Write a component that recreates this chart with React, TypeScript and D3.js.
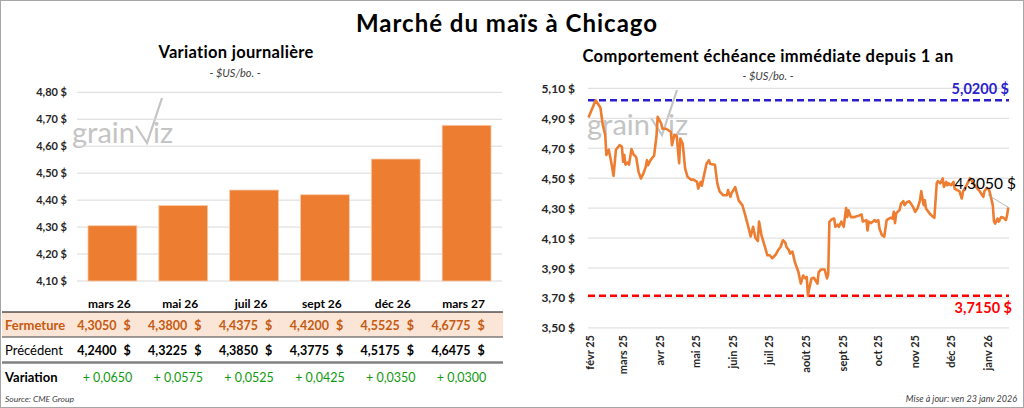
import React from "react";
import * as d3 from "d3";

// ---------- DATA ----------
const contracts = ["mars 26", "mai 26", "juil 26", "sept 26", "déc 26", "mars 27"];
const closeValues = [4.305, 4.38, 4.4375, 4.42, 4.5525, 4.6775];
const previousValues = [4.24, 4.3225, 4.385, 4.3775, 4.5175, 4.6475];
const leftTicks = [4.1, 4.2, 4.3, 4.4, 4.5, 4.6, 4.7, 4.8];
const rightTicks = [3.5, 3.7, 3.9, 4.1, 4.3, 4.5, 4.7, 4.9, 5.1];
const monthLabels = ["févr 25", "mars 25", "avr 25", "mai 25", "juin 25", "juil 25", "août 25", "sept 25", "oct 25", "nov 25", "déc 25", "janv 26"];

const priceDates = [
  "2025-01-31", "2025-02-06", "2025-02-10", "2025-02-12", "2025-02-14", "2025-02-15", "2025-02-17", "2025-02-19", "2025-02-21", "2025-02-23",
  "2025-02-26", "2025-02-28", "2025-03-01", "2025-03-02", "2025-03-03", "2025-03-05", "2025-03-06", "2025-03-08", "2025-03-10", "2025-03-11",
  "2025-03-12", "2025-03-14", "2025-03-16", "2025-03-18", "2025-03-20", "2025-03-21", "2025-03-22", "2025-03-24", "2025-03-27", "2025-03-29",
  "2025-03-30", "2025-04-02", "2025-04-03", "2025-04-06", "2025-04-08", "2025-04-10", "2025-04-11", "2025-04-13", "2025-04-15", "2025-04-17",
  "2025-04-18", "2025-04-20", "2025-04-22", "2025-04-24", "2025-04-27", "2025-04-29", "2025-05-02", "2025-05-03", "2025-05-05", "2025-05-06",
  "2025-05-10", "2025-05-12", "2025-05-13", "2025-05-17", "2025-05-19", "2025-05-21", "2025-05-24", "2025-05-27", "2025-05-28", "2025-05-30",
  "2025-05-31", "2025-06-03", "2025-06-06", "2025-06-09", "2025-06-11", "2025-06-14", "2025-06-16", "2025-06-18", "2025-06-20", "2025-06-22",
  "2025-06-23", "2025-06-25", "2025-06-28", "2025-06-30", "2025-07-02", "2025-07-04", "2025-07-07", "2025-07-09", "2025-07-11", "2025-07-13",
  "2025-07-15", "2025-07-16", "2025-07-18", "2025-07-19", "2025-07-21", "2025-07-23", "2025-07-26", "2025-07-28", "2025-07-30", "2025-08-01",
  "2025-08-02", "2025-08-03", "2025-08-04", "2025-08-06", "2025-08-08", "2025-08-11", "2025-08-12", "2025-08-14", "2025-08-17", "2025-08-19",
  "2025-08-20", "2025-08-21", "2025-08-23", "2025-08-25", "2025-08-26", "2025-08-28", "2025-08-29", "2025-08-31", "2025-09-02", "2025-09-04",
  "2025-09-05", "2025-09-06", "2025-09-08", "2025-09-11", "2025-09-14", "2025-09-17", "2025-09-18", "2025-09-21", "2025-09-22", "2025-09-23",
  "2025-09-25", "2025-09-28", "2025-09-29", "2025-10-01", "2025-10-02", "2025-10-04", "2025-10-06", "2025-10-08", "2025-10-11", "2025-10-13",
  "2025-10-14", "2025-10-15", "2025-10-16", "2025-10-19", "2025-10-20", "2025-10-22", "2025-10-23", "2025-10-25", "2025-10-27", "2025-10-30",
  "2025-11-01", "2025-11-03", "2025-11-05", "2025-11-06", "2025-11-08", "2025-11-09", "2025-11-10", "2025-11-13", "2025-11-15", "2025-11-17",
  "2025-11-19", "2025-11-20", "2025-11-22", "2025-11-24", "2025-11-25", "2025-11-27", "2025-11-28", "2025-11-29", "2025-12-01", "2025-12-03",
  "2025-12-04", "2025-12-06", "2025-12-08", "2025-12-10", "2025-12-11", "2025-12-14", "2025-12-17", "2025-12-19", "2025-12-21", "2025-12-23",
  "2025-12-25", "2025-12-26", "2025-12-28", "2025-12-29", "2025-12-31", "2026-01-02", "2026-01-04", "2026-01-05", "2026-01-06", "2026-01-07",
  "2026-01-09", "2026-01-10", "2026-01-12", "2026-01-14", "2026-01-16", "2026-01-17", "2026-01-18",
];
const priceValues = [
  4.905, 5.02, 4.97, 4.855, 4.79, 4.655, 4.69, 4.61, 4.515, 4.69,
  4.72, 4.71, 4.61, 4.655, 4.59, 4.605, 4.59, 4.694, 4.654, 4.65,
  4.64, 4.54, 4.498, 4.53, 4.575, 4.62, 4.587, 4.62, 4.65, 4.78,
  4.91, 4.865, 4.83, 4.83, 4.82, 4.81, 4.72, 4.79, 4.78, 4.6,
  4.765, 4.73, 4.565, 4.51, 4.49, 4.49, 4.475, 4.43, 4.475, 4.45,
  4.598, 4.62, 4.595, 4.59, 4.465, 4.41, 4.386, 4.386, 4.42, 4.375,
  4.4, 4.44, 4.35, 4.32, 4.265, 4.175, 4.11, 4.175, 4.1, 4.08,
  4.21, 4.12, 4.04, 3.985, 3.985, 3.965, 3.99, 4.02, 4.04, 4.085,
  4.07, 4.04, 4.02, 3.996, 4.01, 3.94, 3.873, 3.796, 3.85, 3.83,
  3.84, 3.715, 3.76, 3.83, 3.835, 3.796, 3.873, 3.89, 3.89, 3.83,
  3.86, 4.21, 4.225, 4.23, 4.175, 4.19, 4.175, 4.21, 4.175, 4.3,
  4.24, 4.285, 4.24, 4.24, 4.248, 4.257, 4.21, 4.22, 4.15, 4.21,
  4.2, 4.22, 4.21, 4.22, 4.163, 4.12, 4.11, 4.22, 4.235, 4.23,
  4.275, 4.2, 4.264, 4.29, 4.33, 4.346, 4.32, 4.34, 4.346, 4.31,
  4.275, 4.3, 4.353, 4.413, 4.32, 4.353, 4.297, 4.264, 4.248, 4.235,
  4.465, 4.48, 4.465, 4.498, 4.442, 4.475, 4.453, 4.465, 4.453, 4.475,
  4.43, 4.42, 4.413, 4.364, 4.41, 4.453, 4.5, 4.475, 4.453, 4.43,
  4.413, 4.4, 4.375, 4.413, 4.435, 4.42, 4.353, 4.32, 4.21, 4.197,
  4.23, 4.21, 4.24, 4.235, 4.22, 4.253, 4.305,
];

// ---------- STYLE ----------
const FONT = "Lato, 'Open Sans', sans-serif";
const ORANGE = "#ED7D31";
const GRID = "#D9D9D9";

const fmt = (v: number, d: number) => v.toFixed(d).replace(".", ",");

function Watermark({ x, y }: { x: number; y: number }) {
  return (
    <g transform={`translate(${x},${y})`} fill="#C4C4C4" stroke="none">
      <text x={0} y={0} fontFamily={FONT} fontSize={29} fontWeight={400}>grain</text>
      <path d="M64,-17 L75,0 L90,-45" fill="none" stroke="#C4C4C4" strokeWidth={2.2} />
      <text x={81} y={0} fontFamily={FONT} fontSize={29} fontWeight={400}>iz</text>
    </g>
  );
}

export default function App() {
  const W = 1024, H = 408;

  // Left chart scales
  const xL = d3.scaleBand<string>().domain(contracts).range([77, 502]).paddingInner(0.31).paddingOuter(0.155);
  const yL = d3.scaleLinear().domain([4.1, 4.8]).range([281, 92.3]);

  // Right chart scales
  const dates = priceDates.map((s) => d3.timeParse("%Y-%m-%d")(s) as Date);
  const xR = d3.scaleTime().domain([new Date(2025, 0, 31), new Date(2026, 0, 18)]).range([588.5, 1008.3]);
  const yR = d3.scaleLinear().domain([3.5, 5.1]).range([327.9, 88.3]);
  const monthTicks = d3.timeMonth.range(new Date(2025, 1, 1), new Date(2026, 0, 18));
  const lineGen = d3.line<number>().x((_, i) => xR(dates[i])).y((v) => yR(v));
  const maxV = d3.max(priceValues) as number;
  const minV = d3.min(priceValues) as number;
  const lastV = priceValues[priceValues.length - 1];
  const lastX = xR(dates[dates.length - 1]);

  const colC = (c: string) => (xL(c) as number) + xL.bandwidth() / 2;

  return (
    <svg width={W} height={H} style={{ position: "absolute", left: 0, top: 0, background: "#fff" }} fontFamily={FONT}>
      <rect x={0.5} y={0.5} width={W - 1} height={H - 1} fill="#fff" stroke="#A6A6A6" strokeWidth={1} />

      {/* Main title */}
      <text x={507} y={32} textAnchor="middle" fontSize={24} fontWeight={700} letterSpacing={1.0} fill="#000">Marché du maïs à Chicago</text>

      {/* ---------------- LEFT CHART ---------------- */}
      <text x={236} y={58} textAnchor="middle" fontSize={16.5} fontWeight={700} letterSpacing={0.3} fill="#000">Variation  journalière</text>
      <text x={235} y={77} textAnchor="middle" fontSize={11} fontStyle="italic" fill="#404040">- $US/bo. -</text>

      <Watermark x={72} y={143} />

      {leftTicks.map((t) => (
        <g key={t}>
          <line x1={77} x2={502} y1={yL(t)} y2={yL(t)} stroke={GRID} strokeWidth={1} />
          <text x={67} y={yL(t) + 4} textAnchor="end" fontSize={11} fontWeight={700} fill="#262626">{fmt(t, 2)} $</text>
        </g>
      ))}
      {contracts.map((c, i) => (
        <rect key={c} x={xL(c)} y={yL(closeValues[i])} width={xL.bandwidth()} height={yL(4.1) - yL(closeValues[i])}
          fill={ORANGE} stroke="#F8CBAD" strokeWidth={0.8} />
      ))}

      {/* Table */}
      <rect x={2} y={312} width={501} height={25} fill="#FBE5D6" />
      <line x1={2} x2={503} y1={312} y2={312} stroke="#000" strokeWidth={1.2} />
      <line x1={2} x2={503} y1={337} y2={337} stroke="#404040" strokeWidth={1} />
      <line x1={2} x2={503} y1={362.5} y2={362.5} stroke="#808080" strokeWidth={2.5} />
      <text x={5} y={329.5} fontSize={13} fontWeight={700} fill="#C55A11">Fermeture</text>
      <text x={5} y={355} fontSize={13} fill="#000">Précédent</text>
      <text x={5} y={381.5} fontSize={13} fontWeight={700} fill="#000">Variation</text>
      {contracts.map((c, i) => {
        const cx = colC(c) - 3;
        const diff = closeValues[i] - previousValues[i];
        return (
          <g key={c}>
            <text x={cx} y={307.5} textAnchor="middle" fontSize={12} fontWeight={700} fill="#000">{c}</text>
            <text x={cx + 7} y={329.5} textAnchor="end" fontSize={12.5} fontWeight={700} fill="#C55A11">{fmt(closeValues[i], 4)}</text>
            <text x={cx + 14} y={329.5} fontSize={12.5} fontWeight={700} fill="#C55A11">$</text>
            <text x={cx + 7} y={355} textAnchor="end" fontSize={12.5} fontWeight={700} fill="#000">{fmt(previousValues[i], 4)}</text>
            <text x={cx + 14} y={355} fontSize={12.5} fontWeight={700} fill="#000">$</text>
            <text x={cx - 2} y={381.5} textAnchor="middle" fontSize={12.5} fill="#119A11">{(diff >= 0 ? "+ " : "- ") + fmt(Math.abs(diff), 4)}</text>
          </g>
        );
      })}
      <text x={5} y={402} fontSize={8.5} fontStyle="italic" fill="#404040">Source: CME Group</text>

      {/* ---------------- RIGHT CHART ---------------- */}
      <text x={768} y={62} textAnchor="middle" fontSize={16.5} fontWeight={700} letterSpacing={0.4} fill="#000">Comportement  échéance  immédiate  depuis  1 an</text>
      <text x={768} y={80} textAnchor="middle" fontSize={11} fontStyle="italic" fill="#404040">- $US/bo. -</text>

      <Watermark x={587} y={135} />

      {rightTicks.map((t) => (
        <g key={t}>
          <line x1={588} x2={1009} y1={yR(t)} y2={yR(t)} stroke={GRID} strokeWidth={1} />
          <text x={575} y={yR(t) + 4.5} textAnchor="end" fontSize={12} fontWeight={700} fill="#262626">{fmt(t, 2)} $</text>
        </g>
      ))}
      {monthTicks.map((m, i) => (
        <text key={i} transform={`translate(${xR(m) + 4},335) rotate(-90)`} textAnchor="end" fontSize={11} fontWeight={700} fill="#262626">{monthLabels[i]}</text>
      ))}

      <line x1={588} x2={1009} y1={yR(maxV)} y2={yR(maxV)} stroke="#2A1FCC" strokeWidth={2.5} strokeDasharray="7,4" />
      <line x1={588} x2={1009} y1={yR(minV)} y2={yR(minV)} stroke="#FF0000" strokeWidth={2.5} strokeDasharray="7,4" />
      <text x={1009} y={yR(maxV) - 6} textAnchor="end" fontSize={14.5} fontWeight={700} fill="#2A1FCC">{fmt(maxV, 4)} $</text>
      <text x={1012} y={yR(minV) + 17} textAnchor="end" fontSize={14.5} fontWeight={700} fill="#FF0000">{fmt(minV, 4)} $</text>

      <path d={lineGen(priceValues) as string} fill="none" stroke={ORANGE} strokeWidth={2.6} strokeLinejoin="round" />

      <line x1={988} y1={195} x2={lastX} y2={yR(lastV)} stroke="#A6A6A6" strokeWidth={0.8} />
      <text x={1016} y={189} textAnchor="end" fontSize={15.5} fill="#000">{fmt(lastV, 4)} $</text>

      <text x={1017} y={402} textAnchor="end" fontSize={9} fontStyle="italic" fill="#404040">Mise à jour: ven 23 janv 2026</text>
    </svg>
  );
}
